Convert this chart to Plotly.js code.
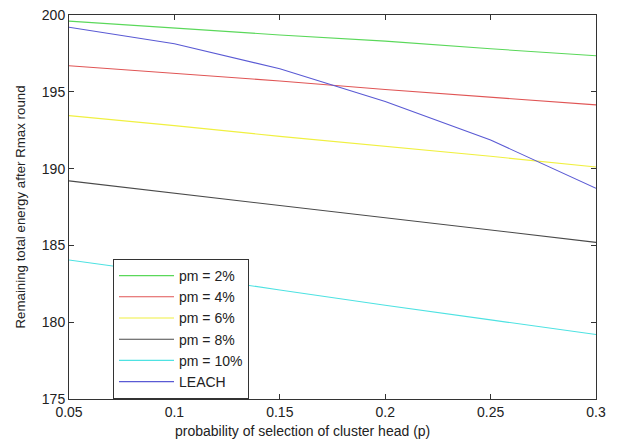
<!DOCTYPE html>
<html>
<head>
<meta charset="utf-8">
<script src="https://cdn.plot.ly/plotly-3.0.1.min.js"></script>
<style>html,body{margin:0;padding:0;background:#fff;}#chart{width:617px;height:441px;}</style>
</head>
<body>
<div id="chart"></div>
<script>
const p = [0.05, 0.1, 0.15, 0.2, 0.25, 0.3];
const pm2 = [199.6, 199.15, 198.7, 198.3, 197.8, 197.35];
const pm4 = [196.7, 196.2, 195.7, 195.15, 194.65, 194.15];
const pm6 = [193.45, 192.8, 192.1, 191.45, 190.8, 190.1];
const pm8 = [189.2, 188.4, 187.6, 186.8, 186.0, 185.2];
const pm10 = [184.05, 183.1, 182.1, 181.1, 180.15, 179.2];
const leach = [199.2, 198.13, 196.5, 194.37, 191.86, 188.72];
const names = ['pm = 2%', 'pm = 4%', 'pm = 6%', 'pm = 8%', 'pm = 10%', 'LEACH'];
const series = [pm2, pm4, pm6, pm8, pm10, leach];
const colors = ['#5ad85a', '#e05555', '#f0f040', '#4a4a4a', '#4ee2e2', '#5a5ad4'];
const xTicks = [0.05, 0.1, 0.15, 0.2, 0.25, 0.3];
const xTickText = ['0.05', '0.1', '0.15', '0.2', '0.25', '0.3'];
const yTicks = [175, 180, 185, 190, 195, 200];
const xTitle = 'probability of selection of cluster head (p)';
const yTitle = 'Remaining total energy after Rmax round';

const traces = series.map((s, i) => ({
  x: p, y: s, type: 'scatter', mode: 'lines', name: names[i],
  line: {color: colors[i], width: 1.1}
}));

const layout = {
  width: 617, height: 441,
  margin: {l: 69, r: 21, t: 15, b: 42},
  paper_bgcolor: '#fff', plot_bgcolor: '#fff',
  font: {family: 'Liberation Sans, Arial, sans-serif', size: 13, color: '#222'},
  showlegend: true,
  legend: {
    x: 0.0835, y: 0, xanchor: 'left', yanchor: 'bottom',
    bordercolor: '#333', borderwidth: 1, bgcolor: '#fff',
    font: {size: 14, color: '#222'}, tracegroupgap: 0, itemwidth: 55
  },
  xaxis: {
    range: [0.05, 0.3], tickvals: xTicks, ticktext: xTickText,
    ticks: 'inside', ticklen: 5, tickcolor: '#333', mirror: 'ticks',
    showline: true, linecolor: '#333', linewidth: 1, showgrid: false, zeroline: false,
    tickfont: {size: 14}
  },
  yaxis: {
    range: [175, 200], tickvals: yTicks,
    ticks: 'inside', ticklen: 5, tickcolor: '#333', mirror: 'ticks',
    showline: true, linecolor: '#333', linewidth: 1, showgrid: false, zeroline: false,
    tickfont: {size: 14},
    title: {text: yTitle, font: {size: 13.3}, standoff: 13}
  },
  annotations: [{
    text: xTitle, xref: 'paper', yref: 'paper', x: 0.444, y: -0.057,
    xanchor: 'center', yanchor: 'top', showarrow: false, font: {size: 14}
  }]
};
Plotly.newPlot('chart', traces, layout, {displayModeBar: false, staticPlot: true});
</script>
</body>
</html>
